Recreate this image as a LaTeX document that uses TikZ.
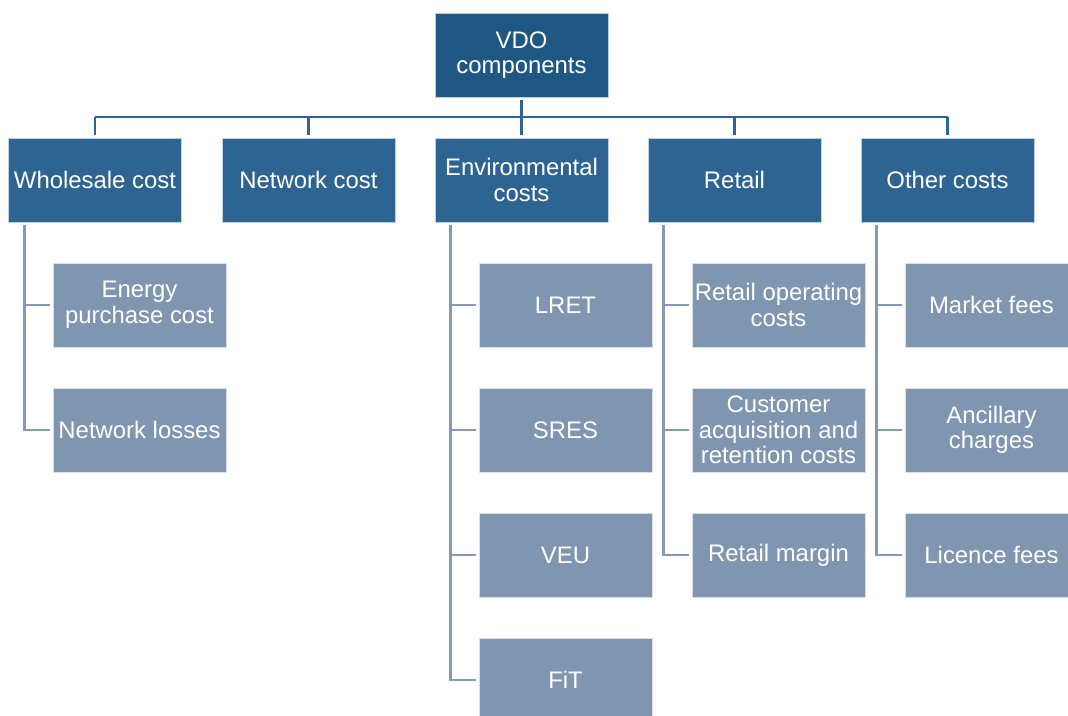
\documentclass[tikz,border=0pt]{standalone}
\usepackage{fontspec}
\setmainfont{Liberation Sans}
\begin{document}
\begin{tikzpicture}[x=1pt,y=-1pt,
  box/.style={minimum width=173pt,minimum height=84pt,inner sep=0pt,align=center,
    text=white,font=\fontsize{23.9}{25.5}\selectfont,draw=white!70!#1,line width=0.6pt,fill=#1},
  topbox/.style={box=topc},
  lvlbox/.style={box=midc},
  subbox/.style={box=subc},
  busline/.style={draw=linec,line width=2.6pt,shorten <=3pt,shorten >=3pt},
  subline/.style={draw=sublinec,line width=2.6pt,shorten >=3pt}]
\definecolor{topc}{HTML}{1F5783}
\definecolor{midc}{HTML}{2E6491}
\definecolor{subc}{HTML}{7F95B0}
\definecolor{linec}{HTML}{2E6491}
\definecolor{sublinec}{HTML}{8499B5}
\useasboundingbox (0,0) rectangle (1068,715);
\clip (0,0) rectangle (1068,715);
% top
\node[topbox] (vdo) at (521.5,55) {VDO\\components};
% level 1
\node[lvlbox] (w) at (95,180) {Wholesale cost};
\node[lvlbox] (n) at (308.5,180) {Network cost};
\node[lvlbox] (e) at (521.5,180) {Environmental\\costs};
\node[lvlbox] (r) at (734.5,180) {Retail};
\node[lvlbox] (o) at (947.5,180) {Other costs};
% children
\node[subbox] (w1) at (139.5,305) {Energy\\purchase cost};
\node[subbox] (w2) at (139.5,430) {Network losses};
\node[subbox] (e1) at (565.5,305) {LRET};
\node[subbox] (e2) at (565.5,430) {SRES};
\node[subbox] (e3) at (565.5,555) {VEU};
\node[subbox] (e4) at (565.5,680) {FiT};
\node[subbox] (r1) at (778.5,305) {Retail operating\\costs};
\node[subbox] (r2) at (778.5,430) {Customer\\acquisition and\\retention costs};
\node[subbox] (r3) at (778.5,555) {Retail margin};
\node[subbox] (o1) at (991.5,305) {Market fees};
\node[subbox] (o2) at (991.5,430) {Ancillary\\charges};
\node[subbox] (o3) at (991.5,555) {Licence fees};
% bus
\coordinate (bus) at (521.5,117);
\draw[draw=linec,line width=2.6pt] (bus -| w.north) -- (bus -| o.north);
\draw[busline,shorten >=0pt] (vdo.south) -- (bus);
\foreach \t in {w,n,e,r,o}{
  \draw[busline,shorten <=0pt] (bus -| \t.north) -- (\t.north);
}
% child trunks
\foreach \p/\c in {w/w1,w/w2,e/e1,e/e2,e/e3,e/e4,r/r1,r/r2,r/r3,o/o1,o/o2,o/o3}{
  \draw[subline] ([xshift=16pt,yshift=-3pt]\p.south west) |- (\c.west);
}
\end{tikzpicture}
\end{document}
